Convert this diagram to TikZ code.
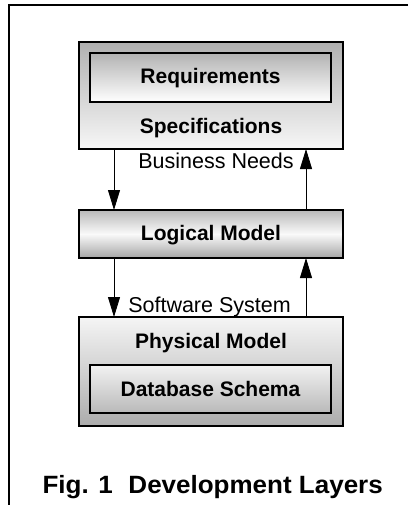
\documentclass[tikz,border=0pt]{standalone}
\usepackage{fontspec}
\setmainfont{Liberation Sans}
\usetikzlibrary{arrows.meta}
\tikzset{
  boxframe/.style={draw=black, line width=1.8pt, inner sep=0pt, outer sep=0pt},
  boxlabel/.style={font=\fontsize{21}{25}\selectfont\bfseries, anchor=base, inner sep=0pt},
  flowlabel/.style={font=\fontsize{21.5}{25}\selectfont, anchor=base, inner sep=0pt},
  arr/.style={line width=0.9pt, -{Triangle[length=20pt,width=12pt]}},
}
\begin{document}
\begin{tikzpicture}[x=1pt,y=-1pt]
\useasboundingbox (0,0) rectangle (408,505);
% frame
\coordinate (ftr) at (408,5);
\coordinate (ftl) at (9,5);
\coordinate (fbl) at (9,505);
\draw[line width=2pt] (ftr) -- (ftl) -- (fbl);
% boxes
\node[boxframe, minimum width=264pt, minimum height=107pt, top color=gray!62, bottom color=gray!6] (spec) at (211,95.5) {};
\node[boxframe, minimum width=241pt, minimum height=49pt, top color=gray!60, bottom color=white] (req) at (210.5,77.5) {};
\node[boxframe, minimum width=264pt, minimum height=48pt, top color=gray!55, bottom color=gray!70, middle color=gray!4] (logic) at (211,234) {};
\node[boxframe, minimum width=264pt, minimum height=109pt, top color=gray!8, bottom color=gray!65] (phys) at (211,371.5) {};
\node[boxframe, minimum width=241pt, minimum height=48pt, top color=gray!10, bottom color=gray!55] (db) at (210.5,389) {};
% labels
\node[boxlabel] (treq) at (210.5,84) {Requirements};
\node[boxlabel] (tspec) at (211,134) {Specifications};
\node[boxlabel] (tlogic) at (211,240) {Logical Model};
\node[boxlabel] (tphys) at (211,348) {Physical Model};
\node[boxlabel] (tdb) at (210.5,396) {Database Schema};
\node[flowlabel] (tbn) at (216,168) {Business Needs};
\node[flowlabel] (tss) at (209.5,312) {Software System};
\node[font=\fontsize{25}{29}\selectfont\bfseries, anchor=base, inner sep=0pt, xscale=1.04, transform shape] (cap) at (212.7,493) {Fig. 1\hspace{0.6em}Development Layers};
% arrows
\coordinate (xl) at (114,0);
\coordinate (xr) at (306,0);
\draw[arr] (spec.south -| xl) -- (logic.north -| xl);
\draw[arr] (logic.north -| xr) -- (spec.south -| xr);
\draw[arr] (logic.south -| xl) -- (phys.north -| xl);
\draw[arr] (phys.north -| xr) -- (logic.south -| xr);
\end{tikzpicture}
\end{document}
